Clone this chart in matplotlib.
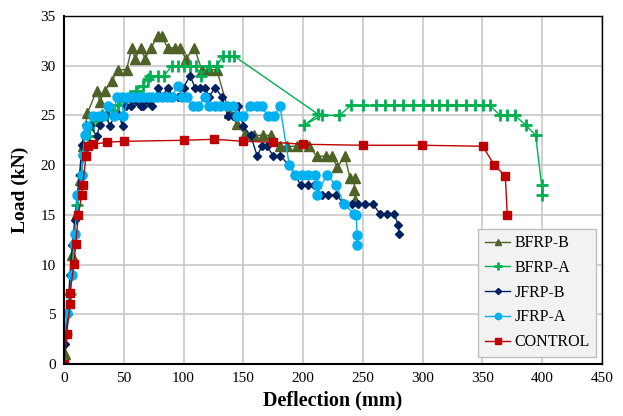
import matplotlib
matplotlib.use("Agg")
import matplotlib.pyplot as plt

plt.rcParams['font.family'] = ['Liberation Serif', 'DejaVu Serif']

# ---- data ----
bfrpb_x = [0, 1, 7, 10.5, 13, 15.6, 19.5, 27.3, 30, 34.3, 40, 45.4, 52.4, 56.6, 59.4, 64.4, 67.7, 72.5,
           78.9, 81.7, 86.7, 92.8, 97, 102, 109, 115.2, 121.3, 127.7, 138.3, 145, 151.4, 158.9, 166.2,
           172.9, 180.7, 186.8, 194.6, 205.2, 211.3, 219.1, 223.9, 228.6, 235, 239.2, 243.4, 242.6, 243.4]
bfrpb_y = [0, 1, 11, 15.2, 18.5, 21.9, 25.2, 27.5, 26.4, 27.5, 28.5, 29.6, 29.6, 31.8, 30.7, 31.8, 30.7, 31.8,
           33, 33, 31.8, 31.8, 31.8, 30.7, 31.8, 29.6, 29.6, 29.6, 25.2, 24.1, 23.1, 23, 23,
           23, 21.9, 21.9, 21.9, 21.9, 20.9, 20.9, 20.9, 19.8, 20.9, 18.7, 18.7, 17.5, 16.5]

bfrpa_x = [0, 2, 5, 8, 11, 14, 17, 21, 24, 28, 32, 36, 40, 45, 50, 55, 60, 66, 70, 72, 79, 84,
           90, 95, 100, 105, 110, 115, 121, 128, 133, 138, 142,
           212.7, 200.7, 215.5, 230.3, 239.8, 249.8, 261, 268.5, 276, 283.8, 292.2, 300.5, 307.5,
           313.9, 320.6, 327.9, 336.2, 343.8, 350.2, 356.3, 364.7, 370.8, 377.2, 386.4, 394.5, 399.5, 400]
bfrpa_y = [0, 3, 7, 12, 16, 19, 21, 22.9, 24, 24.5, 25, 25, 25.5, 26, 26.5, 27, 27.5, 28, 28.7, 29, 29, 29,
           30, 30, 30, 30, 30, 29, 30, 30, 31, 31, 31,
           25.1, 24, 25, 25, 26, 26, 26, 26, 26, 26, 26, 26, 26,
           26, 26, 26, 26, 26, 26, 26, 25, 25, 25, 24, 23, 18, 17]

jfrpb_x = [0, 1, 3, 5, 7, 9, 11, 13, 15, 18, 22, 27.3, 30, 35, 38.5, 42, 46, 49, 49, 52, 56, 60, 64, 66,
           70, 74, 79, 82, 87, 91, 95, 100, 105.4, 109.6, 114, 118, 121.5, 126.3, 131.9, 137.4, 141.6,
           145.8, 150, 156, 161.7, 165.3, 170, 175, 181, 188.4, 198, 204.3, 209, 215.5, 221, 227.7,
           233.6, 240.6, 246.2, 251.8, 258.3, 264.3, 269.9, 276, 279.6, 280.2]
jfrpb_y = [0, 2, 5, 9, 12, 14.5, 17, 19, 22, 24, 24, 22.9, 24, 25, 23.9, 25, 25, 23.9, 25, 25.9, 25.9, 26.5, 25.9, 25.9,
           26.5, 25.9, 27.8, 26.9, 27.8, 26.9, 26.9, 27.8, 29, 27.8, 27.8, 27.8, 26.9, 27.8, 26.9, 24.9, 24.9,
           25.9, 23.9, 23, 20.9, 21.9, 21.9, 20.9, 20.9, 20, 18, 18, 18, 17, 17, 17,
           16.2, 16.1, 16.1, 16.1, 16.1, 15.1, 15.1, 15.1, 14, 13.1]

jfrpa_x = [0, 0.8, 2.2, 7, 8.4, 9.2, 11.1, 12, 14.8, 15.6, 17.5, 19.5, 24.5, 29.5, 32.9, 37, 41.8, 44, 48.2,
           49.7, 53.8, 58, 62, 66, 70, 74, 78, 82, 86, 90, 95.6, 98.4, 102.6, 107.6, 112.3, 117.9, 121.5,
           126.3, 130.5, 136, 141.6, 145, 150, 155.6, 161.2, 165.3, 170.9, 175.6, 180.7, 188.4, 193.2,
           198.8, 204.3, 209.9, 211.3, 211.3, 219.7, 227.5, 234.2, 242.6, 244.5, 245, 245]
jfrpa_y = [0, 3, 5.1, 9, 12.1, 13.1, 17, 17, 19, 21, 23, 23.9, 24.9, 24.9, 24.9, 25.9, 24.9, 26.9, 26.9,
           24.9, 26.9, 26.9, 26.9, 26.9, 26.9, 26.9, 26.9, 26.9, 26.9, 26.9, 28, 26.9, 26.9, 25.9, 25.9, 26.9, 25.9,
           25.9, 25.9, 25.9, 25.9, 24.9, 24.9, 25.9, 25.9, 25.9, 24.9, 24.9, 25.9, 20, 19,
           19, 19, 19, 18, 17, 19, 18, 16.1, 15.1, 15, 13, 12]

ctrl_x = [0, 2.2, 5, 5, 8.4, 9.8, 12, 14.8, 15.6, 18.4, 20.3, 24.5, 35.7, 50.2, 100.4, 125.5, 150, 175,
          200.2, 249.8, 299.2, 350.2, 360, 369.1, 370.8]
ctrl_y = [0, 3, 6, 7.1, 10.1, 12.1, 15, 17, 18, 20.9, 21.9, 22.1, 22.3, 22.4, 22.5, 22.6, 22.4, 22.3,
          22.1, 22, 22, 21.9, 20, 18.9, 15]

series = [
    ("BFRP-B", bfrpb_x, bfrpb_y, "#4f6228", "^", 6.5),
    ("BFRP-A", bfrpa_x, bfrpa_y, "#00b050", "+", 8),
    ("JFRP-B", jfrpb_x, jfrpb_y, "#002060", "D", 4.5),
    ("JFRP-A", jfrpa_x, jfrpa_y, "#00b0f0", "o", 6.5),
    ("CONTROL", ctrl_x, ctrl_y, "#c00000", "s", 6),
]

fig = plt.figure(figsize=(6.23, 4.16), dpi=100)
ax = fig.add_axes([64/623, 52/416, 538/623, 348/416])

for name, xs, ys, c, m, ms in series:
    mew = 2 if m == "+" else 1
    ax.plot(xs, ys, color=c, lw=1.0, marker=m, ms=ms, mfc=c, mec=c, mew=mew, label=name)

ax.set_xlim(0, 450)
ax.set_ylim(0, 35)
ax.set_xticks(range(0, 451, 50))
ax.set_yticks(range(0, 36, 5))
ax.grid(True, color="#c8c8c8", lw=1.2)
ax.set_axisbelow(True)
ax.tick_params(length=0, labelsize=11, pad=6)
for s in ax.spines.values():
    s.set_color("black")
    s.set_linewidth(1.0)
ax.spines['left'].set_linewidth(1.5)
ax.spines['bottom'].set_linewidth(1.5)

ax.set_xlabel("Deflection (mm)", fontsize=14.5, fontweight="bold", labelpad=4)
ax.set_ylabel("Load (kN)", fontsize=14, fontweight="bold", labelpad=8)

leg = ax.legend(loc="lower right", bbox_to_anchor=(0.995, 0.012), fontsize=11.5, frameon=True,
                fancybox=False, framealpha=1, facecolor="#f2f2f2", edgecolor="#bfbfbf",
                handlelength=1.6, borderpad=0.4, labelspacing=0.55, handletextpad=0.25,
                borderaxespad=0.2, markerscale=0.7)
leg.get_frame().set_linewidth(1.0)

fig.savefig("out.png", dpi=100)
